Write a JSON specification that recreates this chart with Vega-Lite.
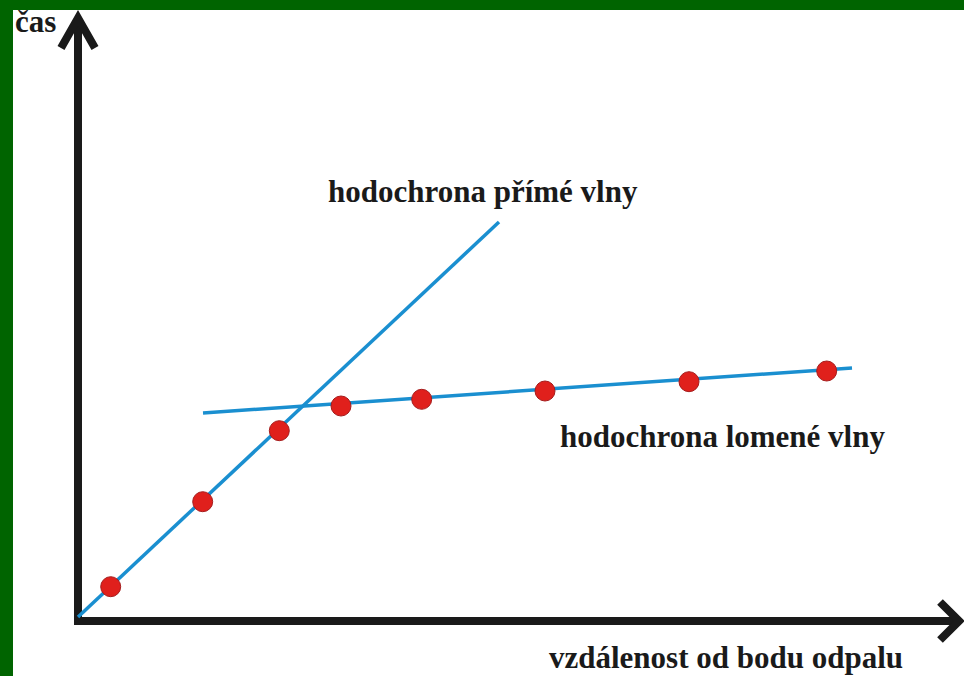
{
  "$schema": "https://vega.github.io/schema/vega-lite/v6.json",
  "width": 951,
  "height": 666,
  "autosize": {"type": "none"},
  "padding": {"left": 13, "top": 10, "right": 0, "bottom": 0},
  "background": "#006400",
  "config": {"view": {"fill": "white", "stroke": null}},
  "datasets": {
    "axes": [
      {"seg": "yaxis", "i": 0, "x": 0, "y": -4},
      {"seg": "yaxis", "i": 1, "x": 0, "y": 603},
      {"seg": "xaxis", "i": 0, "x": -3, "y": 0},
      {"seg": "xaxis", "i": 1, "x": 881, "y": 0},
      {"seg": "yarrow", "i": 0, "x": -17, "y": 573},
      {"seg": "yarrow", "i": 1, "x": 0, "y": 603},
      {"seg": "yarrow", "i": 2, "x": 17, "y": 573},
      {"seg": "xarrow", "i": 0, "x": 862, "y": 19},
      {"seg": "xarrow", "i": 1, "x": 881, "y": 0},
      {"seg": "xarrow", "i": 2, "x": 862, "y": -19}
    ],
    "lines": [
      {"wave": "přímá", "i": 0, "x": 0, "y": 4},
      {"wave": "přímá", "i": 1, "x": 421, "y": 399},
      {"wave": "lomená", "i": 0, "x": 125, "y": 208},
      {"wave": "lomená", "i": 1, "x": 774, "y": 253}
    ],
    "points": [
      {"x": 32.7, "y": 34.3},
      {"x": 124.7, "y": 119.3},
      {"x": 201.3, "y": 190.3},
      {"x": 263, "y": 215},
      {"x": 343.7, "y": 221.7},
      {"x": 467, "y": 230},
      {"x": 611, "y": 239.3},
      {"x": 748.7, "y": 250}
    ],
    "labels": [
      {"x": -63, "y": 589, "text": "čas"},
      {"x": 250, "y": 419, "text": "hodochrona přímé vlny"},
      {"x": 482, "y": 174, "text": "hodochrona lomené vlny"},
      {"x": 471, "y": -47, "text": "vzdálenost od bodu odpalu"}
    ]
  },
  "encoding": {
    "x": {"field": "x", "type": "quantitative", "axis": null,
          "scale": {"domain": [-65, 886], "nice": false, "zero": false}},
    "y": {"field": "y", "type": "quantitative", "axis": null,
          "scale": {"domain": [-55, 611], "nice": false, "zero": false}}
  },
  "layer": [
    {
      "data": {"name": "axes"},
      "mark": {"type": "line", "color": "#1a1a1a", "strokeWidth": 8, "strokeCap": "butt", "strokeJoin": "miter", "clip": false},
      "encoding": {
        "detail": {"field": "seg", "type": "nominal"},
        "order": {"field": "i", "type": "quantitative"}
      }
    },
    {
      "data": {"name": "lines"},
      "mark": {"type": "line", "color": "#1a8fd0", "strokeWidth": 3.5, "strokeCap": "butt"},
      "encoding": {
        "detail": {"field": "wave", "type": "nominal"},
        "order": {"field": "i", "type": "quantitative"}
      }
    },
    {
      "data": {"name": "points"},
      "mark": {"type": "circle", "size": 400, "color": "#e0201c", "opacity": 1, "stroke": "#a51c1c", "strokeWidth": 1}
    },
    {
      "data": {"name": "labels"},
      "mark": {"type": "text", "align": "left", "baseline": "alphabetic", "font": "Liberation Serif", "fontWeight": "bold", "fontSize": 31, "color": "#1a1a1a"},
      "encoding": {"text": {"field": "text", "type": "nominal"}}
    }
  ]
}
